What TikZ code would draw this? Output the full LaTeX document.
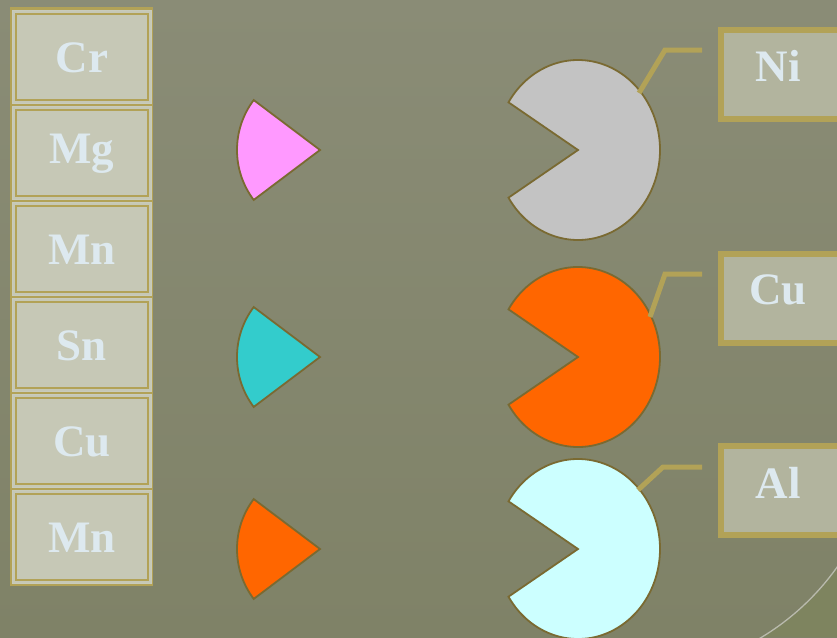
\documentclass[tikz,border=0pt]{standalone}
\usepackage{fontspec}
\setmainfont{Liberation Serif}
\definecolor{bgtop}{HTML}{8A8C76}
\definecolor{bgbot}{HTML}{7F8267}
\definecolor{bgcorner}{HTML}{7E845F}
\definecolor{gold}{HTML}{B2A257}
\definecolor{cellfill}{HTML}{C6C8B6}
\definecolor{celledge}{HTML}{C9CBBB}
\definecolor{boxfill}{HTML}{B2B49E}
\definecolor{txt}{HTML}{DDE9EF}
\definecolor{pacedge}{HTML}{7A6A32}
\definecolor{pgray}{HTML}{C3C3C3}
\definecolor{porange}{HTML}{FF6600}
\definecolor{pcyan}{HTML}{CCFFFF}
\definecolor{ppink}{HTML}{FF99FF}
\definecolor{pteal}{HTML}{33CCCC}
\tikzset{
  celltext/.style={font=\bfseries\fontsize{45}{50}\selectfont, text=txt},
  cellbox/.style={draw=celledge, line width=1pt, fill=cellfill, minimum width=139pt, minimum height=93pt, inner sep=0pt, anchor=north west},
  tagbox/.style={draw=gold, line width=6pt, fill=boxfill, minimum width=122pt, minimum height=89pt, inner sep=0pt, anchor=north west},
  pac/.style={draw=pacedge, line width=1.8pt},
  leader/.style={draw=gold, line width=5pt},
}
\begin{document}
\begin{tikzpicture}[x=1pt,y=-1pt]
\useasboundingbox (0,0) rectangle (837,637);
\clip (0,0) rectangle (837,637);
\shade[top color=bgtop, bottom color=bgbot] (0,0) rectangle (837,637);
% corner decoration
\fill[bgcorner] (630,420) ++(35.4:254) arc[start angle=35.4, end angle=58.5, radius=254] -- (837,637) -- cycle;
\draw[color=bgtop!60!white, line width=1.3pt] (630,420) ++(25:254) arc[start angle=25, end angle=70, radius=254];
% left column
\fill[gold] (10,7) rectangle (153,586);
\foreach \t/\lab [count=\i] in {10/Cr,106/Mg,202/Mn,298/Sn,394/Cu,490/Mn}{
  \node[cellbox] (cell\i) at (12,\t) {};
  \draw[gold, line width=2.6pt] ([xshift=4pt,yshift=-4pt]cell\i.north west) rectangle ([xshift=-4pt,yshift=4pt]cell\i.south east);
  \node[celltext] (lab\i) at ([yshift=-1pt]cell\i.center) {\lab};
}
% wedges
\foreach \cy/\col [count=\i] in {150/ppink,357/pteal,549/porange}{
  \coordinate (w\i) at (320,\cy);
  \fill[\col, pac] (w\i) -- ++(143:83) arc[start angle=143, end angle=217, radius=83] -- cycle;
}
% pacmen
\foreach \cy/\col [count=\i] in {150/pgray,357/porange,549/pcyan}{
  \coordinate (p\i) at (578,\cy);
  \fill[\col, pac] (p\i) -- ++(148:82 and 90) arc[start angle=148, end angle=-148, x radius=82, y radius=90] -- cycle;
}
% tag boxes
\node[tagbox] (ni) at (718,27) {};
\node[celltext, anchor=center] (nit) at (778,66) {Ni};
\node[tagbox] (cu) at (718,251) {};
\node[celltext, anchor=center] (cut) at (778,290) {Cu};
\node[tagbox] (al) at (718,443) {};
\node[celltext, anchor=center] (alt) at (778,483) {Al};
% leaders
\coordinate (l1a) at (639,93); \coordinate (l1b) at (665,50); \coordinate (l1c) at (702,50);
\coordinate (l2a) at (650,317); \coordinate (l2b) at (665,274); \coordinate (l2c) at (702,274);
\coordinate (l3a) at (638,490); \coordinate (l3b) at (663,467); \coordinate (l3c) at (702,467);
\draw[leader] (l1a) -- (l1b) -- (l1c);
\draw[leader] (l2a) -- (l2b) -- (l2c);
\draw[leader] (l3a) -- (l3b) -- (l3c);
\end{tikzpicture}
\end{document}
